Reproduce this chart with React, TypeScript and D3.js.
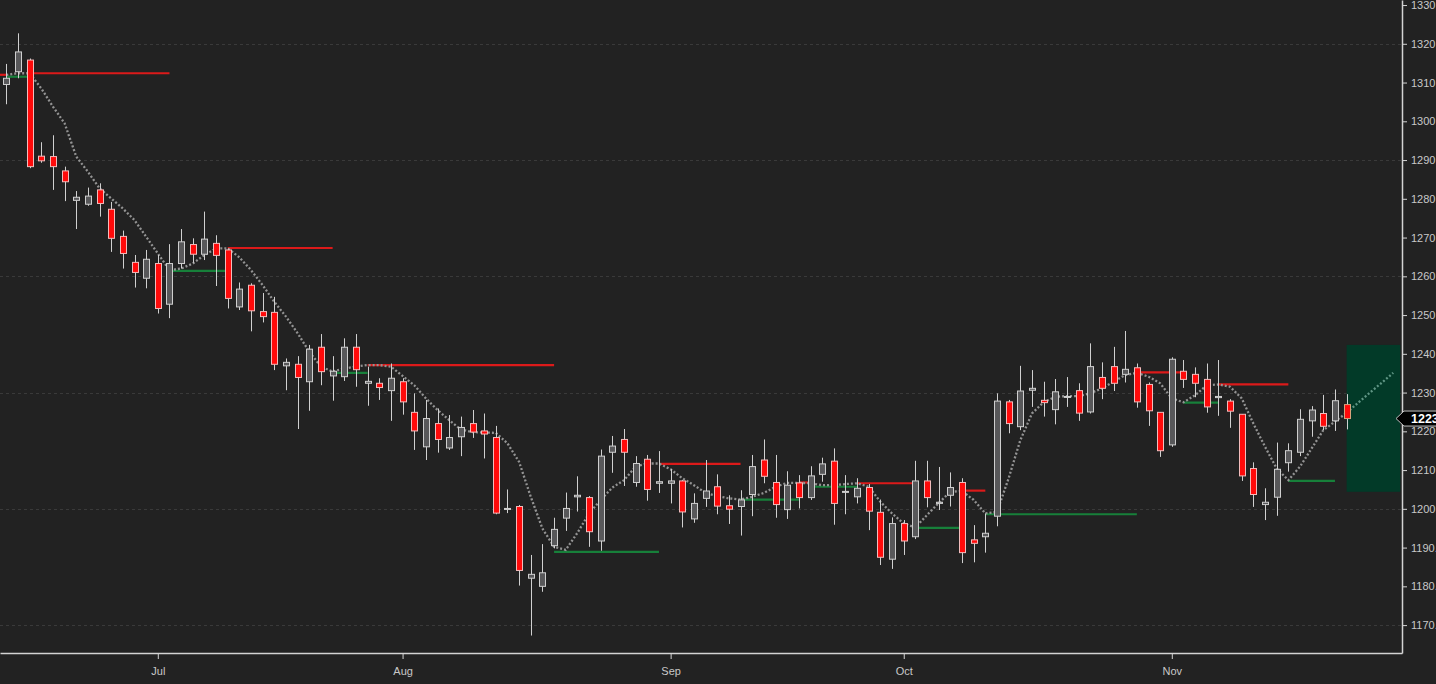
import * as d3 from "d3";
import { useEffect, useRef } from "react";

// daily candles, mid June to late November
const opens = [
    1309.5, 1312.8, 1315.8, 1291.0, 1290.9, 1287.2, 1279.6, 1278.6, 1282.3, 1277.3,
    1270.3, 1263.6, 1259.5, 1263.3, 1252.8, 1263.3, 1268.2, 1265.7, 1268.5, 1266.8,
    1252.1, 1257.7, 1250.9, 1250.7, 1236.9, 1237.3, 1232.8, 1241.7, 1234.3, 1234.1,
    1241.7, 1232.4, 1232.4, 1230.5, 1232.8, 1224.9, 1216.0, 1222.0, 1215.7, 1218.6,
    1222.0, 1220.1, 1218.4, 1199.9, 1200.6, 1182.1, 1180.0, 1190.5, 1197.6, 1203.1,
    1202.9, 1191.7, 1214.6, 1217.9, 1206.8, 1212.8, 1206.6, 1206.6, 1207.2, 1197.4,
    1202.7, 1205.7, 1200.8, 1200.6, 1203.7, 1212.6, 1206.8, 1199.8, 1206.7, 1202.9,
    1208.9, 1212.3, 1204.3, 1203.1, 1205.5, 1199.1, 1187.0, 1196.2, 1192.8, 1207.2,
    1201.4, 1203.5, 1206.8, 1192.0, 1192.8, 1198.1, 1227.6, 1221.2, 1230.6, 1228.0,
    1225.6, 1228.8, 1230.5, 1225.0, 1233.9, 1236.7, 1234.7, 1236.4, 1232.1, 1224.9,
    1216.5, 1235.5, 1234.7, 1233.4, 1228.7, 1227.8, 1224.4, 1210.4, 1201.1, 1203.0,
    1211.9, 1214.6, 1222.7, 1224.6, 1222.7, 1226.9,
];
const highs = [
    1314.8, 1322.7, 1316.2, 1294.6, 1296.4, 1288.3, 1282.0, 1282.9, 1284.0, 1279.2,
    1271.8, 1265.5, 1266.8, 1265.5, 1268.3, 1272.2, 1269.8, 1276.7, 1270.6, 1267.2,
    1258.4, 1258.2, 1255.7, 1254.7, 1238.8, 1239.4, 1242.3, 1245.1, 1239.4, 1244.0,
    1245.1, 1236.7, 1233.7, 1237.5, 1233.7, 1229.8, 1228.1, 1225.9, 1224.2, 1223.8,
    1225.5, 1224.6, 1221.4, 1205.0, 1201.0, 1188.1, 1190.9, 1197.7, 1204.2, 1208.4,
    1203.3, 1215.3, 1218.8, 1220.6, 1213.6, 1213.9, 1214.9, 1210.2, 1207.4, 1204.0,
    1212.6, 1208.9, 1203.5, 1204.8, 1213.9, 1217.9, 1213.9, 1209.7, 1208.7, 1211.0,
    1213.2, 1215.6, 1208.7, 1207.9, 1206.4, 1202.4, 1197.8, 1197.1, 1212.4, 1212.4,
    1210.8, 1209.4, 1207.9, 1195.8, 1198.8, 1229.8, 1228.1, 1236.9, 1235.8, 1232.8,
    1233.5, 1234.0, 1232.4, 1242.7, 1237.8, 1241.8, 1245.9, 1237.5, 1232.6, 1224.9,
    1239.1, 1238.4, 1236.5, 1237.5, 1238.4, 1228.3, 1224.4, 1212.0, 1205.3, 1217.1,
    1216.9, 1225.7, 1226.5, 1229.4, 1230.8, 1229.6,
];
const lows = [
    1304.4, 1311.1, 1287.9, 1289.3, 1282.3, 1279.4, 1272.2, 1278.2, 1275.4, 1266.3,
    1262.0, 1257.1, 1256.9, 1250.4, 1249.2, 1262.0, 1263.5, 1264.2, 1257.5, 1251.7,
    1251.3, 1245.8, 1248.1, 1235.8, 1230.6, 1220.6, 1225.3, 1231.9, 1227.9, 1233.0,
    1231.5, 1226.6, 1228.1, 1222.7, 1224.3, 1215.2, 1212.6, 1214.5, 1215.2, 1213.6,
    1218.3, 1213.0, 1198.6, 1198.9, 1180.2, 1167.3, 1178.6, 1189.8, 1194.3, 1199.3,
    1190.2, 1189.2, 1209.3, 1205.9, 1205.7, 1202.1, 1204.1, 1201.4, 1195.2, 1196.4,
    1200.5, 1198.6, 1196.1, 1193.1, 1198.1, 1206.6, 1197.7, 1197.4, 1200.1, 1202.3,
    1207.0, 1195.9, 1198.6, 1201.4, 1194.5, 1185.5, 1184.5, 1188.1, 1192.2, 1200.4,
    1199.7, 1200.6, 1186.0, 1186.2, 1188.7, 1195.5, 1219.5, 1220.3, 1226.3, 1223.8,
    1221.8, 1226.3, 1222.7, 1224.6, 1228.3, 1230.4, 1232.6, 1226.1, 1221.4, 1213.4,
    1216.0, 1231.2, 1228.8, 1224.8, 1224.0, 1220.9, 1207.2, 1200.5, 1197.1, 1198.2,
    1209.6, 1213.6, 1218.6, 1220.3, 1220.1, 1220.5,
];
const closes = [
    1311.1, 1317.9, 1288.3, 1289.8, 1288.3, 1284.4, 1280.4, 1280.7, 1278.8, 1269.8,
    1265.9, 1261.0, 1264.4, 1251.7, 1263.3, 1268.9, 1265.7, 1269.6, 1265.4, 1254.3,
    1256.7, 1251.1, 1249.6, 1237.3, 1237.8, 1233.9, 1241.2, 1235.4, 1235.5, 1241.7,
    1235.9, 1232.9, 1231.3, 1233.7, 1227.6, 1220.1, 1223.3, 1217.9, 1218.4, 1221.0,
    1219.8, 1219.3, 1198.9, 1200.1, 1184.1, 1183.1, 1183.5, 1194.7, 1200.1, 1203.5,
    1194.1, 1213.6, 1216.2, 1214.6, 1211.7, 1205.0, 1207.0, 1207.2, 1199.2, 1201.4,
    1204.6, 1200.7, 1199.9, 1202.3, 1210.9, 1208.4, 1201.1, 1206.1, 1202.9, 1208.5,
    1211.6, 1201.4, 1204.5, 1205.3, 1199.4, 1187.5, 1196.2, 1191.7, 1207.2, 1202.9,
    1201.7, 1205.5, 1188.7, 1191.1, 1193.7, 1227.8, 1222.0, 1230.4, 1231.1, 1227.4,
    1230.2, 1229.0, 1224.7, 1236.7, 1231.1, 1232.4, 1236.0, 1227.6, 1225.3, 1215.0,
    1238.6, 1233.4, 1232.4, 1226.3, 1229.0, 1225.2, 1208.5, 1203.7, 1201.7, 1210.2,
    1215.0, 1223.1, 1225.5, 1221.3, 1227.9, 1223.3,
];

// dotted trend line, one value per candle, then its projection
const trend = [
    1312.0, 1312.4, 1312.4, 1308.5, 1303.8, 1299.5, 1290.9, 1287.0, 1282.7, 1280.1,
    1277.5, 1274.5, 1270.2, 1265.9, 1261.6, 1262.0, 1263.3, 1265.5, 1267.2, 1267.2,
    1264.9, 1261.6, 1257.7, 1253.4, 1249.6, 1245.3, 1240.5, 1236.7, 1235.4, 1236.2,
    1236.7, 1237.1, 1237.1, 1236.7, 1234.3, 1231.9, 1228.5, 1225.5, 1222.9, 1220.5,
    1219.8, 1219.7, 1219.6, 1216.9, 1212.1, 1203.1, 1194.9, 1190.2, 1189.4, 1193.8,
    1198.8, 1202.3, 1205.5, 1207.4, 1210.9, 1211.7, 1211.7, 1210.2, 1207.9, 1206.1,
    1204.1, 1203.3, 1202.7, 1202.4, 1203.1, 1204.1, 1205.7, 1206.7, 1206.7, 1206.6,
    1206.1, 1206.1, 1206.4, 1206.6, 1205.7, 1201.8, 1198.8, 1196.2, 1195.2, 1198.4,
    1201.5, 1204.4, 1204.6, 1202.3, 1198.8, 1199.2, 1207.9, 1217.7, 1224.6, 1227.5,
    1228.9, 1229.1, 1229.1, 1229.8, 1231.1, 1232.8, 1234.5, 1235.1, 1234.1, 1232.4,
    1228.5, 1227.5, 1229.3, 1231.9, 1232.1, 1231.5, 1228.5, 1222.0, 1216.0, 1210.4,
    1207.4, 1210.9, 1215.6, 1220.3, 1222.5, 1224.8,
];
const trendForecast = [1227.4, 1230.0, 1232.5, 1235.1];

// horizontal pivot levels (candle index from / to)
const levelFrom = [-0.6, 0, 2, 14, 19, 28, 31, 47, 56, 63, 68, 69, 73, 78, 82, 84, 97, 101, 104, 110];
const levelTo = [0, 2, 14, 19, 28, 31, 47, 56, 63, 68, 69, 73, 78, 82, 84, 97, 101, 104, 110, 114];
const levelValue = [
    1312.0, 1311.5, 1312.4, 1261.4, 1267.3, 1235.1, 1237.1, 1188.9, 1211.6, 1202.4,
    1206.8, 1205.7, 1206.6, 1195.1, 1204.7, 1198.6, 1235.2, 1227.4, 1232.1, 1207.2,
];
const levelKind = ["r", "g", "r", "g", "r", "g", "r", "g", "r", "g", "r", "g", "r", "g", "r", "g", "r", "g", "r", "g"];

// projected range box
const boxFrom = 115;
const boxTo = 119.6;
const boxHigh = 1242.3;
const boxLow = 1204.4;

const monthIndex = [13, 34, 57, 77, 100];
const monthLabels = ["Jul", "Aug", "Sep", "Oct", "Nov"];
const priceTicks = [1170, 1180, 1190, 1200, 1210, 1220, 1230, 1240, 1250, 1260, 1270, 1280, 1290, 1300, 1310, 1320, 1330];
const gridTicks = [1170, 1200, 1230, 1260, 1290, 1320];
const lastPrice = 1223.3;

const FONT = "'Liberation Sans', Arial, sans-serif";

export default function App() {
    const svgRef = useRef<SVGSVGElement | null>(null);

    useEffect(() => {
        if (!svgRef.current) return;
        document.body.style.margin = "0";
        document.body.style.background = "#222222";

        const totalW = 1436;
        const totalH = 684;
        const plotW = 1402;
        const plotH = 653;

        const svg = d3.select(svgRef.current);
        svg.attr("width", totalW).attr("height", totalH);
        svg.selectAll("*").remove();

        svg.append("rect").attr("width", totalW).attr("height", totalH).attr("fill", "#222222");

        const x = d3.scaleLinear().domain([-0.54, 119.75]).range([0, plotW]);
        const y = d3.scaleLinear().domain([1162.8, 1331.3]).range([plotH, 0]);

        svg.append("defs")
            .append("clipPath")
            .attr("id", "plot-clip")
            .append("rect")
            .attr("width", plotW)
            .attr("height", plotH);

        // grid
        svg.append("g")
            .selectAll("line")
            .data(gridTicks)
            .join("line")
            .attr("x1", 0)
            .attr("x2", plotW)
            .attr("y1", (d) => Math.round(y(d)) + 0.5)
            .attr("y2", (d) => Math.round(y(d)) + 0.5)
            .attr("stroke", "#3a3a3a")
            .attr("stroke-dasharray", "3,3");

        const plot = svg.append("g").attr("clip-path", "url(#plot-clip)");

        // pivot levels
        plot.append("g")
            .selectAll("line")
            .data(levelValue)
            .join("line")
            .attr("x1", (d, i) => x(levelFrom[i]))
            .attr("x2", (d, i) => x(levelTo[i]))
            .attr("y1", (d) => y(d))
            .attr("y2", (d) => y(d))
            .attr("stroke", (d, i) => (levelKind[i] === "r" ? "#dc1a1a" : "#17803a"))
            .attr("stroke-width", 2.2);

        // dotted trend
        const line = d3
            .line<number>()
            .x((d, i) => x(i))
            .y((d) => y(d));

        plot.append("path")
            .datum(trend)
            .attr("fill", "none")
            .attr("stroke", "#939393")
            .attr("stroke-width", 2.3)
            .attr("stroke-dasharray", "2,2")
            .attr("d", line);

        // candles
        const idx = d3.range(closes.length);
        const bodyW = 6;

        const drawCandles = (ids: number[]) => {
            const g = plot.append("g");
            g.selectAll("line")
                .data(ids)
                .join("line")
                .attr("x1", (i) => Math.round(x(i)) + 0.5)
                .attr("x2", (i) => Math.round(x(i)) + 0.5)
                .attr("y1", (i) => y(highs[i]))
                .attr("y2", (i) => y(lows[i]))
                .attr("stroke", "#d0d0d0")
                .attr("stroke-width", 1);

            g.selectAll("rect")
                .data(ids)
                .join("rect")
                .attr("x", (i) => Math.round(x(i)) + 0.5 - bodyW / 2)
                .attr("width", bodyW)
                .attr("y", (i) => y(Math.max(opens[i], closes[i])))
                .attr("height", (i) => Math.max(1, Math.abs(y(opens[i]) - y(closes[i]))))
                .attr("fill", (i) => (closes[i] >= opens[i] ? "#58585a" : "#ff0a0a"))
                .attr("stroke", (i) =>
                    i === closes.length - 1 ? "#d9a27c" : closes[i] >= opens[i] ? "#cfcfcf" : "#f2bcbc"
                )
                .attr("stroke-width", 1);
        };

        drawCandles(idx.slice(0, idx.length - 1));

        // projection box
        plot.append("rect")
            .attr("x", x(boxFrom))
            .attr("width", x(boxTo) - x(boxFrom))
            .attr("y", y(boxHigh))
            .attr("height", y(boxLow) - y(boxHigh))
            .attr("fill", "#023a28");

        const fc = [trend[trend.length - 1], ...trendForecast];
        const fcLine = d3
            .line<number>()
            .x((d, i) => x(trend.length - 1 + i))
            .y((d) => y(d));

        plot.append("path")
            .datum(fc)
            .attr("fill", "none")
            .attr("stroke", "#5f9584")
            .attr("stroke-width", 2.3)
            .attr("stroke-dasharray", "2,2")
            .attr("d", fcLine);

        drawCandles([idx.length - 1]);

        // axes
        const yAxis = svg
            .append("g")
            .attr("transform", `translate(${plotW},0)`)
            .call(
                d3
                    .axisRight(y)
                    .tickValues(priceTicks)
                    .tickSize(5)
                    .tickSizeOuter(0)
                    .tickPadding(4)
                    .tickFormat((d) => d3.format(".2f")(d as number))
            );

        const xAxis = svg
            .append("g")
            .attr("transform", `translate(0,${plotH})`)
            .call(
                d3
                    .axisBottom(x)
                    .tickValues(monthIndex)
                    .tickSize(6)
                    .tickSizeOuter(0)
                    .tickPadding(8)
                    .tickFormat((d, i) => monthLabels[i])
            );

        [yAxis, xAxis].forEach((ax) => {
            ax.select(".domain").attr("stroke", "#d4d4d4").attr("stroke-width", 1.5);
            ax.selectAll(".tick line").attr("stroke", "#d4d4d4");
            ax.selectAll(".tick text")
                .attr("fill", "#c8c8c8")
                .attr("font-family", FONT)
                .attr("font-size", 11);
        });

        // last price tag
        const py = y(lastPrice);
        const tag = svg.append("g");
        tag.append("path")
            .attr(
                "d",
                `M${plotW - 6},${py} L${plotW + 2},${py - 7.5} L${totalW + 2},${py - 7.5} L${totalW + 2},${py + 7.5} L${plotW + 2},${py + 7.5} Z`
            )
            .attr("fill", "#000000")
            .attr("stroke", "#bdbdbd")
            .attr("stroke-width", 1);
        tag.append("text")
            .attr("x", plotW + 9)
            .attr("y", py)
            .attr("dy", "0.36em")
            .attr("fill", "#ffffff")
            .attr("font-family", FONT)
            .attr("font-size", 12.5)
            .attr("font-weight", 600)
            .text(d3.format(".2f")(lastPrice));
    }, []);

    return <svg ref={svgRef} style={{ display: "block" }} />;
}
